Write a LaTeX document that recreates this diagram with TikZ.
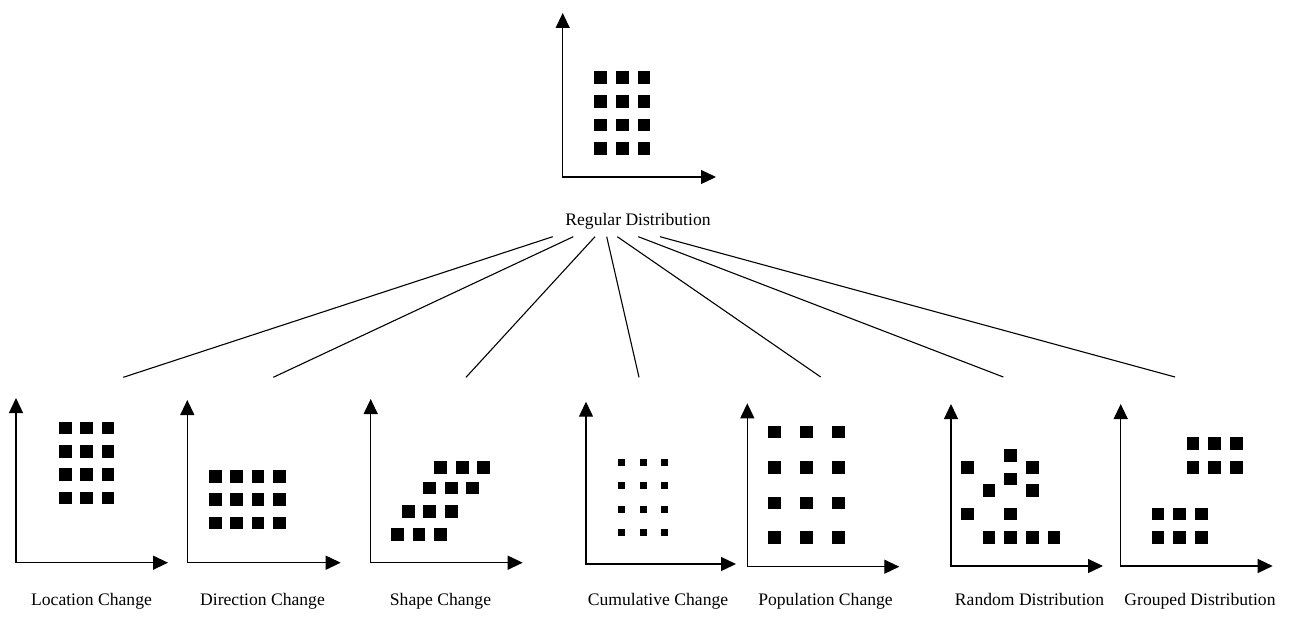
\documentclass[tikz,border=0pt]{standalone}
\usepackage{fontspec}
\setmainfont{Liberation Serif}
\usetikzlibrary{arrows.meta,calc}
\begin{document}
\begin{tikzpicture}[x=1pt,y=-1pt,
  axis/.style={line width=1.3pt,{Triangle[length=15pt,width=14pt]}-{Triangle[length=15pt,width=14pt]}},
  link/.style={line width=1.1pt},
  lbl/.style={font=\fontsize{17.6}{19}\selectfont,anchor=base,inner sep=0pt},
]
\useasboundingbox (0,0) rectangle (1289,618);
\newcommand\sqb[2]{\fill (#1,#2) rectangle ++(12.5,12.5);}
\newcommand\sqs[2]{\fill (#1,#2) rectangle ++(7,7);}
% top panel
\draw[axis] (562.7,13) -- (562.7,177) -- (716,177);
\foreach \c in {594.3,616,637.5}{\foreach \r in {71,95,118.5,142}{\sqb{\c}{\r}}}
\node[font=\fontsize{17.6}{19}\selectfont,anchor=south,inner xsep=0pt,inner ysep=6.7pt,text depth=4pt] (reg) at (638,236.7) {Regular Distribution};
% panel 1 location
\draw[axis] (16,398) -- (16,562.7) -- (168,562.7);
\foreach \c in {59,80.3,101.7}{\foreach \r in {421.7,445,468.3,491.7}{\sqb{\c}{\r}}}
\node[lbl] (l1) at (91.5,605) {Location Change};
% panel 2 direction
\draw[axis] (187.3,400) -- (187.3,562.7) -- (340.7,562.7);
\foreach \c in {209,230.3,251.7,273.3}{\foreach \r in {470,493.3,516.7}{\sqb{\c}{\r}}}
\node[lbl] (l2) at (262.5,605) {Direction Change};
% panel 3 shape
\draw[axis] (370.7,399) -- (370.7,562.7) -- (522.7,562.7);
\foreach \c in {434,456,477.3}{\sqb{\c}{461}}
\foreach \c in {423.3,445,466}{\sqb{\c}{481.7}}
\foreach \c in {402.3,423.3,445}{\sqb{\c}{505}}
\foreach \c in {391,412.7,434}{\sqb{\c}{528.3}}
\node[lbl] (l3) at (440.5,605) {Shape Change};
% panel 4 cumulative
\draw[axis] (586,401.7) -- (586,564) -- (736,564);
\foreach \c in {618.3,640,661}{\foreach \r in {459,482.3,505.7,529}{\sqs{\c}{\r}}}
\node[lbl] (l4) at (658,605) {Cumulative Change};
% panel 5 population
\draw[axis] (747.3,403.3) -- (747.3,566.7) -- (899.3,566.7);
\foreach \c in {768.3,800.3,832.3}{\foreach \r in {425.7,461,496.7,531}{\sqb{\c}{\r}}}
\node[lbl] (l5) at (825.5,605) {Population Change};
% panel 6 random
\draw[axis] (951,404) -- (951,566) -- (1103,566);
\sqb{961}{461}\sqb{1004.3}{449.3}\sqb{1026}{461}\sqb{1004.3}{472.7}
\sqb{982.7}{484}\sqb{1026}{484}\sqb{961}{507.7}\sqb{1004.3}{507.7}
\foreach \c in {982.7,1004.3,1026,1047.7}{\sqb{\c}{531}}
\node[lbl] (l6) at (1029.5,605) {Random Distribution};
% panel 7 grouped
\draw[axis] (1120.7,404) -- (1120.7,566) -- (1272.7,566);
\foreach \c in {1186.7,1208.3,1230}{\foreach \r in {437.3,461}{\sqb{\c}{\r}}}
\foreach \c in {1151.7,1173.3,1195}{\foreach \r in {507.7,531}{\sqb{\c}{\r}}}
\node[lbl] (l7) at (1200,605) {Grouped Distribution};
% connector ends
\coordinate (t1) at (123.3,377.3);
\coordinate (t2) at (273.3,377.3);
\coordinate (t3) at (466,377.3);
\coordinate (t4) at (639,377.3);
\coordinate (t5) at (820.7,377);
\coordinate (t6) at (1003.3,377);
\coordinate (t7) at (1175,377);
\draw[link] ([xshift=-85.3pt]reg.south) -- (t1);
\draw[link] ([xshift=-64.7pt]reg.south) -- (t2);
\draw[link] ([xshift=-43pt]reg.south) -- (t3);
\draw[link] ([xshift=-31.3pt]reg.south) -- (t4);
\draw[link] ([xshift=-20.7pt]reg.south) -- (t5);
\draw[link] ([xshift=0.3pt]reg.south) -- (t6);
\draw[link] ([xshift=22pt]reg.south) -- (t7);
\end{tikzpicture}
\end{document}
